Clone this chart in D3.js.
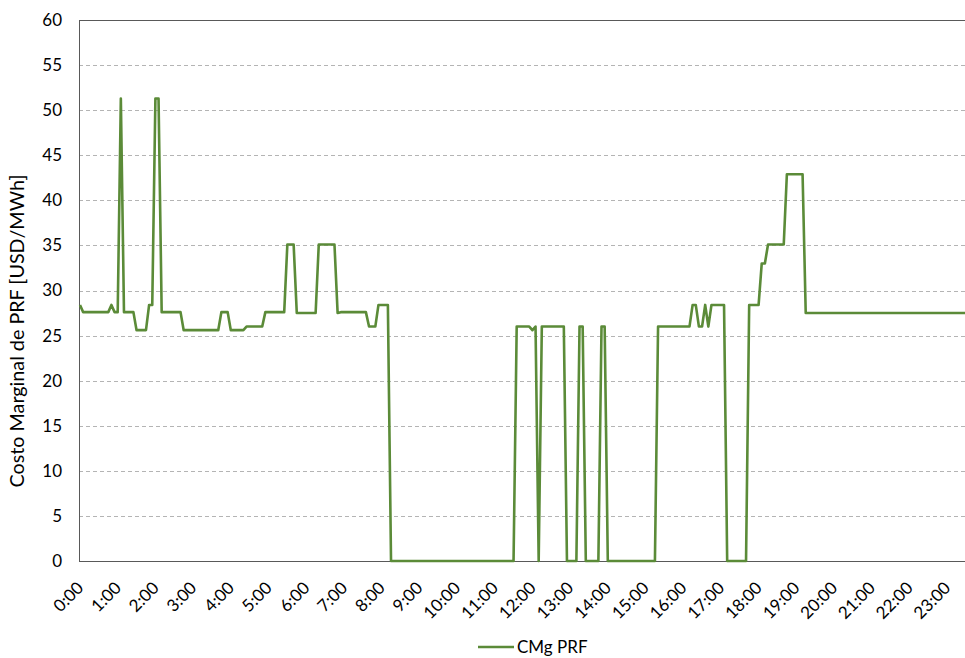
<!DOCTYPE html>
<html>
<head>
<meta charset="utf-8">
<script src="https://cdnjs.cloudflare.com/ajax/libs/d3/7.8.5/d3.min.js"></script>
<style>
  body { margin: 0; background: #fff; overflow: hidden; }
  text { font-family: Lato, "Noto Sans", sans-serif; fill: #000; }
</style>
</head>
<body>
<script>
//Width and height
var width = 965;
var height = 658;
var margin = {top: 20, left: 80, bottom: 561};

// 5 minute steps, stored as runs: value held for N steps
var runValues  = [28.4, 27.6, 28.4, 27.6, 51.3, 27.6, 25.6, 28.4, 51.3, 27.6,
                  25.6, 27.6, 25.6, 26.0, 27.6, 35.1, 27.5, 35.1, 27.5, 27.6,
                  26.0, 28.4, 0, 26.0, 25.6, 26.0, 0, 26.0, 0, 26.0,
                  0, 26.0, 0, 26.0, 28.4, 26.0, 28.4, 26.0, 28.4, 0,
                  28.4, 33.0, 35.1, 42.9, 27.5];
var runLengths = [1, 9, 1, 2, 1, 4, 4, 2, 2, 7,
                  12, 3, 5, 6, 7, 3, 7, 6, 1, 9,
                  3, 4, 40, 5, 1, 1, 1, 8, 4, 2,
                  5, 2, 16, 11, 2, 2, 1, 1, 5, 7,
                  4, 2, 6, 6, 57];
var stepMinutes = 5;

var hourLabels = ["0:00","1:00","2:00","3:00","4:00","5:00","6:00","7:00","8:00","9:00","10:00","11:00",
                  "12:00","13:00","14:00","15:00","16:00","17:00","18:00","19:00","20:00","21:00","22:00","23:00"];
var yTicks = [0, 5, 10, 15, 20, 25, 30, 35, 40, 45, 50, 55, 60];
var seriesName = "CMg PRF";
var yTitle = "Costo Marginal de PRF [USD/MWh]";
var lineColor = "#5b8b38";

// unpack the runs into one point per 5 minutes
var dataset = [];
runValues.forEach(function(v, i) {
  for (var k = 0; k < runLengths[i]; k++) {
    dataset.push({t: dataset.length * stepMinutes, v: v});
  }
});

var svg = d3.select("body").append("svg")
  .attr("width", width)
  .attr("height", height);

var x = d3.scaleLinear().domain([0, 24 * 60]).range([margin.left, margin.left + 24 * 37.7]);
var y = d3.scaleLinear().domain([0, 60]).range([margin.bottom, margin.top]);

// dashed gridlines
svg.append("g").selectAll("line")
  .data(yTicks.filter(function(d) { return d > 0 && d < 60; }))
  .enter().append("line")
  .attr("x1", margin.left - 1).attr("x2", width)
  .attr("y1", function(d) { return Math.round(y(d)) + 0.5; })
  .attr("y2", function(d) { return Math.round(y(d)) + 0.5; })
  .attr("stroke", "#b4b4b4")
  .attr("stroke-dasharray", "4,3");

// plot frame
svg.append("rect")
  .attr("x", margin.left - 0.5)
  .attr("y", Math.round(y(60)) + 0.5)
  .attr("width", x(24 * 60) - margin.left)
  .attr("height", Math.round(y(0)) - Math.round(y(60)))
  .attr("fill", "none")
  .attr("stroke", "#595959");

// y axis labels
var yAxis = d3.axisLeft(y).tickValues(yTicks).tickSize(0).tickPadding(0);
var gy = svg.append("g").attr("transform", "translate(62,0)").call(yAxis);
gy.select(".domain").remove();
gy.selectAll("text").attr("font-size", 17).attr("font-family", "Lato, sans-serif").attr("fill", "#000");

// x axis labels, rotated
var xAxis = d3.axisBottom(x)
  .tickValues(d3.range(hourLabels.length).map(function(h) { return h * 60; }))
  .tickFormat(function(d, i) { return hourLabels[i]; })
  .tickSize(0);
var gx = svg.append("g").attr("transform", "translate(0," + margin.bottom + ")").call(xAxis);
gx.select(".domain").remove();
gx.selectAll("text")
  .attr("font-size", 17)
  .attr("font-family", "Lato, sans-serif")
  .attr("fill", "#000")
  .attr("text-anchor", "end")
  .attr("dy", 0)
  .attr("y", 0)
  .attr("transform", "translate(4,28) rotate(-45)");

// the series
var line = d3.line()
  .x(function(d) { return x(d.t); })
  .y(function(d) { return y(d.v); });

svg.append("path")
  .datum(dataset)
  .attr("d", line)
  .attr("fill", "none")
  .attr("stroke", lineColor)
  .attr("stroke-width", 2.6)
  .attr("stroke-linejoin", "round");

// axis title, sized so it runs from about y=175 to y=488
var title = svg.append("text")
  .attr("text-anchor", "middle")
  .attr("font-size", 16)
  .text(yTitle);
var titleLen = title.node().getComputedTextLength();
title.attr("font-size", 16 * 313 / titleLen)
  .attr("transform", "translate(24,331) rotate(-90)");

// legend
svg.append("line")
  .attr("x1", 478).attr("x2", 514)
  .attr("y1", 647).attr("y2", 647)
  .attr("stroke", lineColor)
  .attr("stroke-width", 2.6);
svg.append("text")
  .attr("x", 517).attr("y", 653)
  .attr("font-size", 17)
  .text(seriesName);
</script>
</body>
</html>
